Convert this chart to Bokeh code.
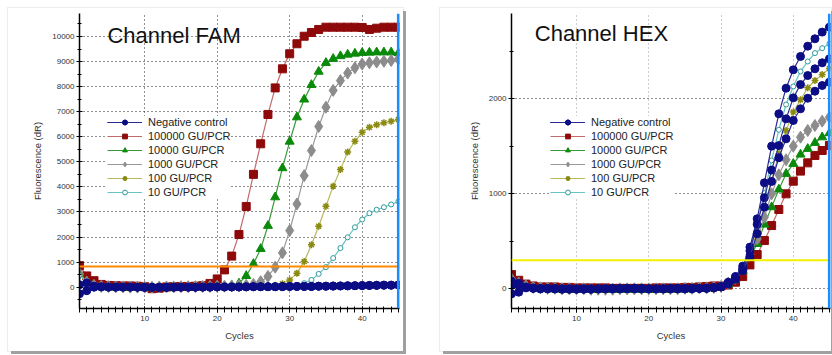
from bokeh.plotting import figure
from bokeh.models import Range1d, SingleIntervalTicker, Span, Label, Legend, LegendItem, Spacer
from bokeh.layouts import row, column
from bokeh.embed import file_html
from bokeh.resources import INLINE

# ---------------- data ----------------
cycles = list(range(1, 46))
series_labels = ["Negative control", "100000 GU/PCR", "10000 GU/PCR",
                 "1000 GU/PCR", "100 GU/PCR", "10 GU/PCR"]

# Channel FAM
fam_neg_a = [100, 170, 40, 20, 10, 10, 10, 10, 0, 0, 0, 0, 0, 0, 0, 0, 0, 10, 10, 10, 10, 10, 10,
             20, 20, 20, 20, 20, 30, 30, 30, 30, 30, 40, 40, 40, 50, 50, 60, 60, 70, 70, 80, 80, 90]
fam_neg_b = [-260, -140, 0, 10, 0, 0, 0, 0, 0, -10, -10, -10, -10, 0, 0, 0, 0, 0, 0, 10, 10, 10,
             10, 10, 20, 20, 20, 20, 20, 30, 30, 30, 30, 40, 40, 50, 50, 60, 60, 70, 70, 80, 80, 80, 90]
fam_100000 = [860, 450, 260, 110, 70, 60, 50, 50, 40, 20, -60, -40, 10, 20, 30, 30, 40, 60, 150, 330,
              690, 1240, 2100, 3220, 4500, 5720, 6890, 7950, 8710, 9310, 9710, 10010, 10160, 10280,
              10370, 10370, 10370, 10370, 10370, 10360, 10280, 10330, 10370, 10370, 10370]
fam_10000 = [530, 200, 60, 10, 0, 0, -10, -10, -20, -20, -10, 0, 0, 0, 10, 10, 10, 20, 20, 30, 40,
             70, 150, 450, 930, 1530, 2450, 3590, 4750, 5810, 6780, 7490, 8070, 8600, 8950, 9110,
             9220, 9280, 9320, 9350, 9360, 9370, 9370, 9370, 9340]
fam_1000 = [530, 200, 70, 30, 20, 10, 10, 0, 0, 0, 0, 10, 10, 10, 20, 20, 20, 30, 30, 40, 40, 50, 60,
            80, 110, 220, 430, 800, 1370, 2260, 3320, 4450, 5450, 6410, 7180, 7850, 8240, 8540,
            8750, 8900, 8950, 8980, 9010, 9040, 9100]
fam_100 = [500, 190, 60, 20, 10, 0, 0, -10, -10, 0, 0, 0, 10, 10, 10, 10, 20, 20, 20, 30, 30, 30,
           40, 40, 50, 50, 60, 80, 140, 290, 560, 1020, 1690, 2430, 3230, 4030, 4690, 5390, 5820,
           6180, 6380, 6480, 6560, 6620, 6690]
fam_10 = [480, 180, 60, 20, 0, 0, -10, -10, -10, 0, 0, 0, 10, 10, 10, 10, 20, 20, 20, 20, 30, 30,
          30, 30, 40, 40, 40, 50, 50, 60, 80, 160, 290, 530, 800, 1160, 1560, 1990, 2390, 2700,
          2950, 3090, 3190, 3300, 3420]
fam_threshold = 830

# Channel HEX
hex_neg_a = [35, 60, 20, 10, 5, 5, 5, 0, 0, 0, 0, 0, 0, 0, 5, 5, 5, 5, 0, 0, 0, 0, 5, 5, 5, 5, 5,
             10, 15, 25, 70, 130, 239, 439, 737, 1116, 1502, 1842, 2112, 2305, 2446, 2554, 2632,
             2702, 2754]
hex_neg_b = [-53, -35, 10, 5, 0, 0, 0, -5, -5, -5, -5, -5, 0, 0, 0, 0, 5, 5, 5, 0, 0, 0, 0, 0, 0,
             5, 5, 5, 10, 20, 60, 120, 210, 400, 680, 960, 1250, 1508, 1789, 2010, 2150, 2245,
             2316, 2379, 2421]
hex_neg_c = [80, 40, 15, 5, 0, 0, 0, 0, 0, 0, 0, 0, 0, 0, 0, 0, 0, 0, 0, 0, 0, 0, 0, 0, 0, 0, 5, 5,
             10, 20, 50, 100, 190, 340, 580, 860, 1130, 1380, 1579, 1772, 1895, 2006, 2080, 2140,
             2175]
hex_100000 = [150, 90, 50, 30, 20, 20, 20, 15, 15, 10, 10, 10, 10, 10, 5, 5, 5, 5, 5, 5, 10, 10,
              10, 10, 15, 15, 20, 25, 30, 30, 40, 70, 129, 252, 361, 508, 666, 835, 1000, 1133,
              1239, 1326, 1404, 1456, 1509]
hex_10000 = [110, 60, 30, 10, 0, 0, -5, -5, -10, -10, -10, -10, -10, -10, -10, -10, -10, -10, -10,
             -10, -10, -10, -5, -5, -5, 0, 0, 5, 10, 20, 50, 100, 190, 333, 473, 677, 860, 1046,
             1211, 1316, 1414, 1474, 1537, 1596, 1639]
hex_1000 = [100, 60, 30, 15, 10, 5, 5, 0, 0, 0, 0, -5, -5, -5, -5, 0, 0, 0, 0, 0, 0, 0, 0, 0, 5, 5,
            10, 10, 15, 25, 60, 110, 210, 360, 526, 754, 1000, 1200, 1358, 1502, 1596, 1667,
            1719, 1765, 1807]
hex_100 = [90, 55, 25, 10, 5, 0, 0, -5, -5, -5, -5, -5, -5, -5, -5, -5, -5, -5, -5, -5, -5, 0, 0, 0,
           0, 5, 5, 10, 15, 25, 60, 115, 220, 390, 610, 860, 1140, 1421, 1667, 1860, 1989, 2116,
           2193, 2256, 2320]
hex_10 = [80, 50, 25, 10, 5, 0, 0, -5, -5, -5, -10, -10, -10, -10, -10, -10, -10, -10, -10, -10,
          -10, -5, -5, -5, 0, 0, 5, 5, 10, 25, 60, 120, 228, 404, 684, 1007, 1351, 1674, 1940,
          2130, 2288, 2393, 2481, 2533, 2579]
hex_threshold = 300

# ---------------- styles ----------------
FONT = "Liberation Sans"
marker_styles = [
    # marker, size, fill, marker outline, connecting line colour
    ("circle", 8, "#0c0c84", "#0c0c84", "#2a2a95"),
    ("square", 8, "#8e0a0a", "#8e0a0a", "#c06a6a"),
    ("triangle", 9, "#0a8a0a", "#0a8a0a", "#3a9a3a"),
    ("diamond", 12, "#8c8c8c", "#8c8c8c", "#9a9a9a"),
    ("asterisk", 7, "#8a8a10", "#8a8a10", "#b8b860"),
    ("circle", 5, "#ffffff", "#2e9a9a", "#66c4c4"),
]


def make_panel(title, title_x, title_y, series, y_start, y_end, threshold, thr_color,
               width, border_right, legend_x, vgrid_color):
    p = figure(width=width, height=343, output_backend="svg", toolbar_location=None,
               x_range=Range1d(1, 45.15), y_range=Range1d(y_start, y_end),
               min_border_left=71, min_border_right=border_right, min_border_top=5,
               min_border_bottom=43)
    p.outline_line_color = None
    p.background_fill_color = "white"
    p.border_fill_color = "white"

    xt = SingleIntervalTicker(interval=10, num_minor_ticks=10)
    yt = SingleIntervalTicker(interval=1000, num_minor_ticks=2)
    p.xaxis.ticker = xt
    p.yaxis.ticker = yt
    p.xgrid.ticker = xt
    p.ygrid.ticker = yt
    for g in (p.xgrid, p.ygrid):
        g.grid_line_dash = "1 3"
        g.grid_line_width = 1
    p.xgrid.grid_line_color = vgrid_color
    p.ygrid.grid_line_color = "#222222"

    for ax in (p.xaxis, p.yaxis):
        ax.axis_line_color = "black"
        ax.axis_line_width = 1.5
        ax.major_tick_line_color = "black"
        ax.minor_tick_line_color = "black"
        ax.major_label_text_font = FONT
        ax.major_label_text_font_size = "8px"
        ax.major_label_text_color = "#333333"
        ax.axis_label_text_font = FONT
        ax.axis_label_text_font_size = "9.5px"
        ax.axis_label_text_font_style = "normal"
        ax.axis_label_text_color = "#333333"
    p.xaxis.axis_label = "Cycles"
    p.yaxis.axis_label = "Fluorescence (dR)"
    p.xaxis.major_tick_in = 2
    p.xaxis.major_tick_out = 4
    p.xaxis.minor_tick_in = 2
    p.xaxis.minor_tick_out = 4
    p.xaxis.major_label_standoff = 3
    p.xaxis.axis_label_standoff = 6
    p.yaxis.major_tick_in = 3
    p.yaxis.major_tick_out = 3
    p.yaxis.minor_tick_in = 2
    p.yaxis.minor_tick_out = 2
    p.yaxis.major_label_standoff = 2
    p.yaxis.axis_label_standoff = 6

    items = []
    order = [1, 2, 3, 4, 5, 0]
    rend = {}
    for i in order:
        mk, sz, fc, lc, linec = marker_styles[i]
        rs = []
        for ys in series[i]:
            lr = p.line(cycles, ys, line_color=linec, line_width=1.2)
            sr = p.scatter(cycles, ys, marker=mk, size=sz, fill_color=fc, line_color=lc,
                           line_width=1.5 if mk == "asterisk" else 1)
            rs += [lr, sr]
        rend[i] = rs
    for i in range(6):
        items.append(LegendItem(label=series_labels[i], renderers=rend[i]))

    p.add_layout(Span(location=threshold, dimension="width", line_color=thr_color, line_width=2))
    p.add_layout(Span(location=45, dimension="height", line_color="#1e8cff", line_width=3))

    legend = Legend(items=items, location=(legend_x, 110), background_fill_color="white",
                    background_fill_alpha=1, border_line_color=None, label_text_font=FONT,
                    label_text_font_size="11px", label_text_color="#222222", glyph_width=35,
                    glyph_height=12, label_height=12, spacing=2, padding=3, margin=0,
                    label_standoff=6)
    p.add_layout(legend)

    p.add_layout(Label(x=title_x, y=title_y, text=title, text_font=FONT, text_font_size="22px",
                       text_color="#111111", text_baseline="alphabetic"))
    return p


fam_series = [[fam_neg_a, fam_neg_b], [fam_100000], [fam_10000], [fam_1000], [fam_100], [fam_10]]
hex_series = [[hex_neg_a, hex_neg_b, hex_neg_c], [hex_100000], [hex_10000], [hex_1000],
              [hex_100], [hex_10]]

p1 = make_panel("Channel FAM", 4.86, 10040, fam_series, -850, 10917, fam_threshold, "#ff8a00",
                395, 4, 28, "#222222")
p2 = make_panel("Channel HEX", 4.22, 2684, hex_series, -207, 2898, hex_threshold, "#f2f200",
                391, 1, 39, "#999999")

for p in (p1, p2):
    p.styles = {"box-shadow": "3px 3px 0 #a0a0a0, 0 0 0 1px #ececec"}

layout = column(Spacer(height=8),
                row(Spacer(width=8), p1, Spacer(width=37), p2))
open("out.html", "w").write(file_html(layout, INLINE))
